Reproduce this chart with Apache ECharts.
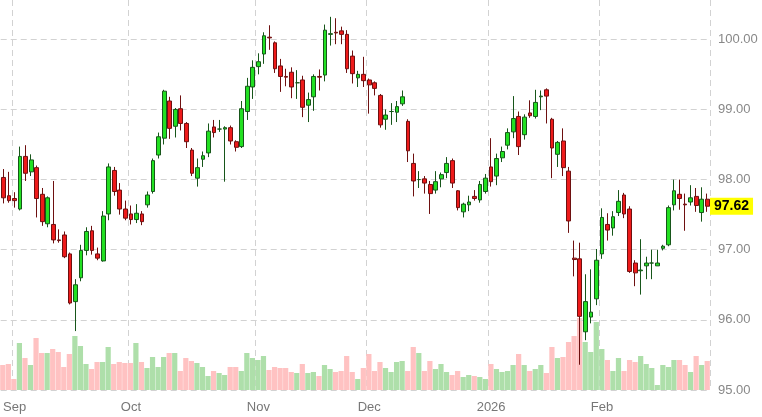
<!DOCTYPE html>
<html>
<head>
<meta charset="utf-8">
<script src="https://cdn.jsdelivr.net/npm/echarts@6/dist/echarts.min.js"></script>
<style>
  html, body { margin: 0; padding: 0; background: #fff; }
  #chart { width: 762px; height: 417px; }
</style>
</head>
<body>
<div id="chart"></div>
<script>
// trading days Aug 28 2025 .. Feb 27 2026, market holidays skipped
const firstDay = "2025-08-28";
const lastDay = "2026-02-27";
const holidays = ["2025-09-01", "2025-12-25", "2026-01-01", "2026-01-19"];
const monthNames = ["Jan", "Feb", "Mar", "Apr", "May", "Jun", "Jul", "Aug", "Sep", "Oct", "Nov", "Dec"];

// [open, close, low, high]
const candles = [
  [98.03,97.74,97.66,98.15],[97.77,97.70,97.67,98.11],[97.73,97.70,97.60,97.82],[97.58,98.33,97.56,98.47],
  [98.33,98.09,97.98,98.49],[98.11,98.28,98.05,98.36],[98.17,97.73,97.46,98.20],[97.79,97.40,97.34,97.88],
  [97.37,97.74,97.32,97.76],[97.36,97.14,97.09,97.98],[97.14,97.13,97.10,97.29],[97.21,96.90,96.88,97.26],
  [96.94,96.24,96.22,96.96],[96.26,96.50,95.84,96.58],[96.60,96.99,96.55,97.07],[96.99,97.26,96.92,97.32],
  [97.27,96.99,96.93,97.34],[96.94,96.88,96.85,97.03],[96.84,97.48,96.83,97.55],[97.51,98.18,97.42,98.23],
  [98.13,97.83,97.77,98.18],[97.85,97.58,97.50,97.95],[97.58,97.45,97.42,97.70],[97.51,97.43,97.36,97.63],
  [97.43,97.52,97.38,97.65],[97.51,97.40,97.35,97.55],[97.64,97.78,97.60,97.83],[97.83,98.27,97.80,98.30],
  [98.35,98.61,98.30,98.67],[98.59,99.26,98.50,99.28],[99.12,98.73,98.58,99.18],[98.76,99.00,98.60,99.02],
  [99.01,98.80,98.70,99.20],[98.80,98.54,98.45,98.82],[98.42,98.09,98.05,98.45],[98.02,98.17,97.90,98.30],
  [98.29,98.34,98.18,98.40],[98.38,98.69,98.32,98.80],[98.75,98.67,98.60,98.85],[98.72,98.72,98.68,98.85],
  [98.72,98.74,97.97,98.76],[98.74,98.55,98.50,98.77],[98.54,98.46,98.40,98.56],[98.47,99.01,98.45,99.12],
  [98.97,99.33,98.85,99.45],[99.32,99.60,99.15,99.70],[99.61,99.68,99.50,99.80],[99.79,100.05,99.65,100.10],
  [100.03,100.02,99.85,100.20],[99.95,99.58,99.52,99.97],[99.62,99.47,99.25,99.72],[99.47,99.46,99.33,99.58],
  [99.53,99.32,99.16,99.60],[99.38,99.38,99.15,99.56],[99.42,99.03,98.89,99.48],[99.06,99.14,98.82,99.24],
  [99.18,99.47,98.98,99.50],[99.47,99.46,99.27,99.57],[99.49,100.13,99.40,100.21],[100.07,100.08,99.91,100.32],
  [100.10,100.09,99.93,100.30],[100.12,100.07,99.93,100.18],[100.07,99.58,99.52,100.13],[99.76,99.51,99.37,99.84],
  [99.45,99.50,99.32,99.55],[99.50,99.41,99.32,99.75],[99.42,99.35,98.94,99.44],[99.38,99.30,99.20,99.40],
  [99.20,98.78,98.74,99.22],[98.86,98.92,98.71,99.00],[98.97,98.97,98.78,99.09],[98.96,99.04,98.82,99.12],
  [99.08,99.18,99.05,99.27],[98.83,98.41,98.25,98.86],[98.23,97.98,97.76,98.37],[98.00,98.00,97.88,98.12],
  [98.01,97.95,97.80,98.05],[97.93,97.80,97.51,97.98],[97.85,97.97,97.80,98.12],[98.01,98.07,97.89,98.10],
  [98.10,98.23,98.02,98.32],[98.27,97.95,97.88,98.30],[97.84,97.60,97.56,97.85],[97.54,97.65,97.46,97.67],
  [97.64,97.68,97.55,97.77],[97.76,97.73,97.70,97.85],[97.71,97.93,97.67,97.98],[97.83,98.02,97.80,98.08],
  [98.18,97.97,97.90,98.59],[98.05,98.30,97.92,98.37],[98.31,98.40,98.25,98.47],[98.49,98.67,98.43,98.73],
  [98.68,98.87,98.59,99.19],[98.90,98.47,98.35,98.97],[98.64,98.89,98.57,98.93],[98.95,98.91,98.88,99.13],
  [98.90,99.10,98.87,99.28],[99.18,99.19,98.99,99.27],[99.28,99.19,98.80,99.30],[98.86,98.45,98.02,98.88],
  [98.36,98.53,98.18,98.55],[98.55,98.17,98.05,98.73],[98.12,97.41,97.24,98.18],[96.88,96.86,96.62,97.13],
  [96.87,96.05,95.36,97.10],[95.83,96.26,95.71,96.65],[96.04,96.11,95.95,96.72],[96.30,96.85,96.21,97.01],
  [96.94,97.46,96.87,97.59],[97.36,97.28,97.13,97.52],[97.31,97.47,97.20,97.55],[97.53,97.69,97.48,97.85],
  [97.78,97.51,97.45,97.81],[97.58,96.69,96.67,97.62],[96.81,96.67,96.48,96.85],[96.70,96.71,96.36,97.15],
  [96.77,96.81,96.58,96.90],[96.81,96.81,96.58,97.00],[96.77,96.81,96.77,97.00],[97.02,97.05,96.99,97.07],
  [97.07,97.60,97.05,97.63],[97.64,97.84,97.56,98.00],[97.79,97.73,97.57,98.00],[97.65,97.64,97.27,97.80],
  [97.68,97.74,97.63,97.92],[97.76,97.63,97.54,97.88],[97.53,97.72,97.40,97.89],[97.72,97.62,97.54,97.80]
];

const volumes = [
  25,26,11,47,32,25,52,37,37,41,38,23,36,54,44,26,21,28,28,43,26,28,27,27,47,28,22,33,23,33,
  37,37,19,32,29,27,23,14,19,17,15,23,23,19,37,32,30,34,20,23,22,22,18,17,26,17,18,14,25,21,
  18,19,34,18,11,22,36,19,28,22,18,28,29,19,43,37,19,29,21,26,18,15,19,13,15,14,13,11,26,21,
  18,19,25,36,25,19,21,25,17,43,32,33,48,54,72,48,38,68,41,30,19,32,19,30,28,34,26,22,5,25,
  23,30,30,25,18,34,25,29
];

const lastPrice = 97.62;
const yTicks = [95, 96, 97, 98, 99, 100];
const yMin = 95, yMax = 100.56;

const dates = [];
for (let d = new Date(firstDay + "T12:00:00Z"); d <= new Date(lastDay + "T12:00:00Z"); d.setUTCDate(d.getUTCDate() + 1)) {
  const wd = d.getUTCDay();
  const s = d.toISOString().slice(0, 10);
  if (wd === 0 || wd === 6 || holidays.includes(s)) continue;
  dates.push(s);
}

function isMonthStart(i) {
  return i > 0 && dates[i].slice(5, 7) !== dates[i - 1].slice(5, 7);
}
function monthLabel(s) {
  const m = +s.slice(5, 7);
  return m === 1 ? s.slice(0, 4) : monthNames[m - 1];
}

const upColor = "#22e022", upBorder = "#17561a";
const downColor = "#ee1a1a", downBorder = "#6e1010";
const gridLine = { color: "#d2d2d2", type: [6, 4], width: 1 };

const volData = volumes.map((v, i) => ({
  value: v,
  itemStyle: { color: candles[i][1] >= candles[i][0] ? "#aedfaa" : "#ffc2c2" }
}));

const chart = echarts.init(document.getElementById("chart"));
chart.setOption({
  animation: false,
  grid: [
    { left: 0, right: 52, top: 0, bottom: 27 },
    { left: 0, right: 52, bottom: 27, height: 100 }
  ],
  xAxis: [
    {
      type: "category", data: dates, gridIndex: 0,
      axisLine: { show: false }, axisTick: { show: false },
      axisLabel: {
        interval: (i) => isMonthStart(i),
        formatter: (v) => monthLabel(v),
        color: "#777", fontSize: 13, fontFamily: "Liberation Sans", margin: 11
      },
      splitLine: { show: true, interval: (i) => isMonthStart(i), lineStyle: gridLine }
    },
    {
      type: "category", data: dates, gridIndex: 1,
      axisLine: { show: false }, axisTick: { show: false }, axisLabel: { show: false }
    }
  ],
  yAxis: [
    {
      type: "value", gridIndex: 0, position: "right", min: yMin, max: yMax, interval: 1,
      axisLine: { show: false }, axisTick: { show: false },
      axisLabel: {
        showMaxLabel: false,
        formatter: (v) => v.toFixed(2), color: "#888", fontSize: 13,
        fontFamily: "Liberation Sans", margin: 8
      },
      splitLine: { show: false }
    },
    { type: "value", gridIndex: 1, min: 0, max: 100, show: false }
  ],
  series: [
    {
      type: "bar", xAxisIndex: 1, yAxisIndex: 1, data: volData,
      barCategoryGap: "6%", z: 1, silent: true
    },
    {
      type: "line", xAxisIndex: 0, yAxisIndex: 0, data: [], z: 0, silent: true,
      markLine: {
        symbol: "none", silent: true, lineStyle: gridLine, label: { show: false },
        data: yTicks.map((t) => ({ yAxis: t }))
      }
    },
    {
      type: "candlestick", xAxisIndex: 0, yAxisIndex: 0, data: candles, z: 5,
      barWidth: "76%",
      itemStyle: {
        color: upColor, borderColor: upBorder,
        color0: downColor, borderColor0: downBorder, borderWidth: 1
      },
      markLine: {
        symbol: "none", silent: true,
        lineStyle: { color: "transparent", width: 0 },
        label: {
          show: true, position: "end", distance: 0, formatter: lastPrice.toFixed(2),
          backgroundColor: "#ffff00", color: "#000", fontWeight: "bold",
          fontSize: 14, fontFamily: "Liberation Sans", padding: [2, 4, 1, 4]
        },
        data: [{ yAxis: lastPrice }]
      }
    }
  ]
});
</script>
</body>
</html>
